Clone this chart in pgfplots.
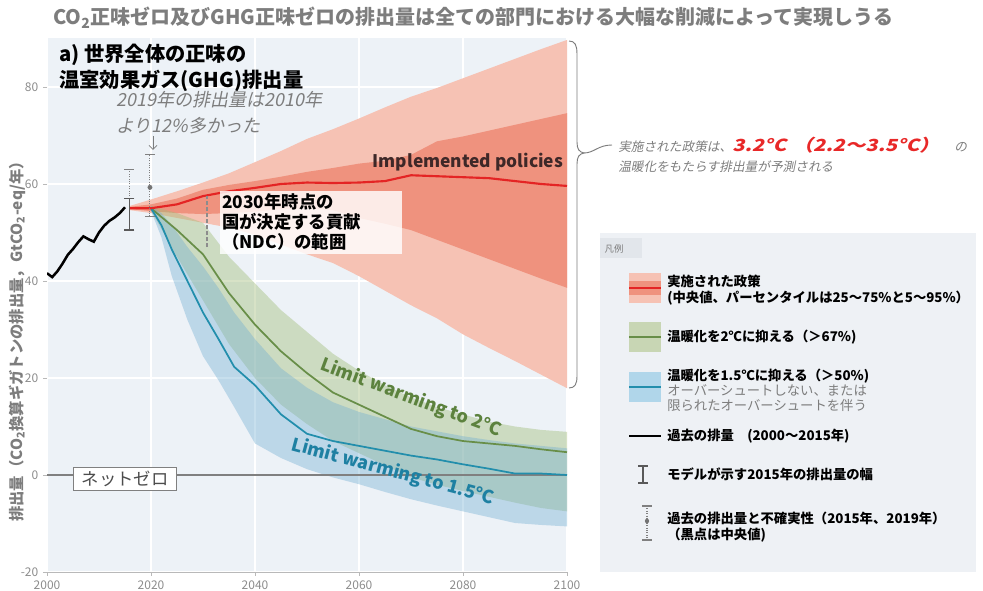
\documentclass[border=0pt]{standalone}
\usepackage{pgfplots}
\pgfplotsset{compat=1.18}
\usepackage{pgfplotstable}
\usepgfplotslibrary{fillbetween}
\usetikzlibrary{arrows.meta}
\usepackage{fontspec}
\setmainfont{Noto Sans CJK JP}[AutoFakeSlant=0.2]

\definecolor{plotbg}{RGB}{237,242,247}
\definecolor{legbg}{RGB}{238,241,245}
\definecolor{legtab}{RGB}{226,230,235}
\definecolor{redout}{RGB}{246,194,180}
\definecolor{redin}{RGB}{239,146,126}
\definecolor{redline}{RGB}{228,36,36}
\definecolor{grfill}{RGB}{160,188,120}
\definecolor{grline}{RGB}{104,142,72}
\definecolor{grtext}{RGB}{92,130,62}
\definecolor{blfill}{RGB}{110,172,210}
\definecolor{blline}{RGB}{34,142,172}
\definecolor{bltext}{RGB}{30,128,162}
\definecolor{grpatch}{RGB}{200,214,180}
\definecolor{blpatch}{RGB}{176,214,234}
\definecolor{axgray}{RGB}{185,185,185}
\definecolor{tickgray}{RGB}{140,140,140}
\definecolor{txtgray}{RGB}{125,125,125}
\definecolor{boxgray}{RGB}{128,128,128}
\definecolor{ipol}{RGB}{62,40,40}
\definecolor{redtxt}{RGB}{232,40,40}

\pgfplotstableread{
year val
2000 41.6
2001 40.8
2002 42.0
2003 43.6
2004 45.4
2005 46.6
2006 48.0
2007 49.2
2008 48.6
2009 48.1
2010 50.0
2011 51.4
2012 52.4
2013 53.1
2014 54.0
2015 55.2
}\histT

\pgfplotstableread{
year oLo iLo mid iHi oHi
2016 54.6 54.8 55.0 55.3 55.5
2020 54.0 54.4 55.0 55.8 56.8
2025 53.0 54.0 55.8 57.0 58.5
2030 52.0 53.8 57.5 58.8 60.3
2035 51.0 54.0 58.5 59.8 62.2
2040 49.5 54.3 59.2 60.6 64.5
2045 47.5 54.8 60.0 61.5 66.8
2050 45.5 55.0 60.3 62.5 69.3
2055 43.7 54.6 60.2 63.3 71.3
2060 41.0 53.0 60.3 64.2 73.5
2065 38.0 51.8 60.6 64.8 75.8
2070 35.0 50.5 61.8 66.0 78.0
2075 32.3 48.5 61.6 68.8 79.8
2080 29.0 46.5 61.4 69.8 81.8
2085 26.2 44.5 61.2 71.0 83.8
2090 23.5 42.5 60.6 72.2 85.8
2095 20.7 40.5 60.0 73.4 87.8
2100 17.9 38.6 59.6 74.6 89.7
}\redT

\pgfplotstableread{
year lo mid hi
2020 54.5 55.0 55.5
2025 45.0 50.5 54.0
2030 36.0 45.5 52.0
2035 27.0 37.5 45.0
2040 20.0 31.0 39.5
2045 14.5 25.5 34.0
2050 10.5 21.0 29.5
2055 7.0 17.0 25.0
2060 4.5 14.5 21.5
2065 2.0 12.0 18.5
2070 -0.5 9.5 16.0
2075 -2.0 8.0 14.0
2080 -3.3 7.0 12.5
2085 -4.5 6.5 11.0
2090 -5.7 6.0 10.0
2095 -6.8 5.3 9.3
2100 -7.5 4.7 8.9
}\greenT

\pgfplotstableread{
year lo mid hi
2020 54.5 55.0 55.5
2022 49.0 51.5 54.0
2024 41.0 46.5 51.5
2027 32.0 40.0 47.0
2030 24.5 33.5 43.0
2033 19.5 28.0 38.5
2036 14.0 22.3 33.5
2040 6.5 18.5 28.0
2045 3.5 12.5 22.0
2050 1.2 8.5 18.0
2055 -0.5 7.0 15.0
2060 -1.9 6.0 13.0
2065 -3.5 5.0 11.5
2070 -5.0 4.0 10.0
2075 -6.3 3.2 9.0
2080 -7.5 2.2 8.0
2085 -8.7 1.3 7.2
2090 -9.9 0.3 6.5
2095 -10.3 0.3 6.0
2100 -10.6 0.0 5.5
}\blueT

\begin{document}
\begin{tikzpicture}
\begin{axis}[
  at={(35.25pt,-429pt)}, anchor=south west,
  scale only axis, width=390pt, height=400.125pt,
  xmin=2000, xmax=2100, ymin=-20, ymax=90,
  xtick={2000,2020,2040,2060,2080,2100},
  ytick={-20,0,20,40,60,80},
  axis background/.style={fill=plotbg},
  axis lines*=left,
  y axis line style={draw=none},
  x axis line style={-, draw=axgray, line width=0.6pt},
  tick style={draw=axgray, line width=0.5pt},
  major tick length=3pt,
  tick align=outside,
  grid=major, major grid style={draw=white, line width=0.9pt},
  ticklabel style={font=\fontsize{9}{10}\selectfont, text=tickgray},
  /pgf/number format/assume math mode=true,
  /pgf/number format/1000 sep={},
]
% red bands
\addplot[name path=rOH, draw=none] table[x=year,y=oHi]{\redT};
\addplot[name path=rOL, draw=none] table[x=year,y=oLo]{\redT};
\addplot[fill=redout, draw=none] fill between[of=rOH and rOL];
\addplot[name path=rIH, draw=none] table[x=year,y=iHi]{\redT};
\addplot[name path=rIL, draw=none] table[x=year,y=iLo]{\redT};
\addplot[fill=redin, draw=none] fill between[of=rIH and rIL];
% green band
\addplot[name path=gH, draw=none] table[x=year,y=hi]{\greenT};
\addplot[name path=gL, draw=none] table[x=year,y=lo]{\greenT};
\addplot[fill=grfill, fill opacity=0.42, draw=none] fill between[of=gH and gL];
% blue band
\addplot[name path=bH, draw=none] table[x=year,y=hi]{\blueT};
\addplot[name path=bL, draw=none] table[x=year,y=lo]{\blueT};
\addplot[fill=blfill, fill opacity=0.38, draw=none] fill between[of=bH and bL];
% zero line
\addplot[boxgray, line width=0.9pt] coordinates {(2000,0) (2100,0)};
% medians
\addplot[grline, line width=1.3pt] table[x=year,y=mid]{\greenT};
\addplot[blline, line width=1.3pt] table[x=year,y=mid]{\blueT};
\addplot[redline, line width=1.6pt] table[x=year,y=mid]{\redT};
% history
\addplot[black, line width=1.9pt] table[x=year,y=val]{\histT};
% uncertainty bars
\addplot[gray, densely dotted, line width=0.8pt] coordinates {(2015.8,50.5) (2015.8,63)};
\addplot[only marks, mark=-, mark size=3.5pt, gray, mark options={line width=0.8pt}] coordinates {(2015.8,63)};
\addplot[black!65, line width=0.9pt, mark=-, mark size=4pt, mark options={line width=0.9pt}] coordinates {(2015.8,50.5) (2015.8,57)};
\addplot[gray, densely dotted, line width=0.8pt] coordinates {(2019.8,53.3) (2019.8,66)};
\addplot[only marks, mark=-, mark size=3.5pt, gray, mark options={line width=0.8pt}] coordinates {(2019.8,53.3) (2019.8,66)};
\addplot[only marks, mark=*, mark size=1.6pt, black!55] coordinates {(2019.8,59.3)};
% NDC range
\addplot[black!45, line width=1.8pt, dash pattern=on 3pt off 1.5pt] coordinates {(2030.8,47) (2030.8,57.5)};
\end{axis}

\begin{scope}[x=0.75pt,y=-0.75pt]
% main title
\node[anchor=west, text=txtgray, font=\bfseries\fontsize{15}{18}\selectfont, inner sep=0pt] at (53,18)
  {CO\textsubscript{2}正味ゼロ及びGHG正味ゼロの排出量は全ての部門における大幅な削減によって実現しうる};
% y label
\node[rotate=90, text=txtgray, font=\bfseries\fontsize{11.5}{12}\selectfont, inner sep=0pt] at (17,338)
  {排出量（CO\textsubscript{2}換算ギガトンの排出量，GtCO\textsubscript{2}-eq/年）};
% panel title
\node[anchor=north west, align=left, font=\bfseries\fontsize{15.2}{19}\selectfont, inner sep=0pt] at (59,44)
  {a) 世界全体の正味の\\温室効果ガス(GHG)排出量};
% 2019 annotation
\node[anchor=north west, align=left, text=txtgray, font=\itshape\fontsize{13.5}{19.5}\selectfont, inner sep=0pt] at (116,91)
  {2019年の排出量は2010年\\より12\%多かった};
\draw[txtgray, line width=0.6pt, -{Straight Barb[length=3pt]}] (153,136) -- (153,150);
% NDC label
\fill[white, opacity=0.82] (220,191) rectangle (402,254);
\node[anchor=north west, align=left, font=\bfseries\fontsize{13}{15}\selectfont, inner sep=0pt] at (222,193)
  {2030年時点の\\国が決定する貢献\\（NDC）の範囲};
% implemented policies
\node[text=ipol, font=\bfseries\fontsize{13}{15}\selectfont] at (468,162) {Implemented policies};
% curve labels
\node[rotate=-20.5, text=grtext, font=\bfseries\fontsize{13.5}{15}\selectfont] at (411,398) {Limit warming to 2°C};
\node[rotate=-15, text=bltext, font=\bfseries\fontsize{13.5}{15}\selectfont] at (393,472) {Limit warming to 1.5°C};
% net zero box
\node[draw=boxgray, line width=1.1pt, fill=white, minimum width=77pt, minimum height=17pt, inner sep=1pt, text=black!70, font=\fontsize{13}{15}\selectfont] at (125,479) {ネットゼロ};
% brace
\draw[txtgray, line width=0.7pt] (569,41) .. controls (575,41) and (577,45) .. (577,54) -- (577,142)
  .. controls (577,149) and (579,152) .. (584,153) .. controls (579,154) and (577,157) .. (577,164)
  -- (577,376) .. controls (577,384) and (575,388) .. (569,388);
\draw[txtgray, line width=0.7pt] (584,153) .. controls (594,153) and (598,145) .. (612,145);
% implemented policies note
\node[anchor=west, text=txtgray, font=\itshape\fontsize{9.5}{11}\selectfont, inner sep=0pt] at (618,145)
  {実施された政策は、{\color{redtxt}\bfseries\addfontfeatures{FakeSlant=0.2}\fontsize{12.5}{14}\selectfont\scalebox{1.22}[1]{3.2°C\hspace{4pt}（2.2～3.5°C）}}\hspace{11pt}の};
\node[anchor=west, text=txtgray, font=\itshape\fontsize{9.5}{11}\selectfont, inner sep=0pt] at (618,167)
  {温暖化をもたらす排出量が予測される};
% legend
\fill[legbg] (600,233) rectangle (976,572);
\fill[legtab] (600,238) rectangle (642,258);
\node[text=txtgray, font=\fontsize{7}{8}\selectfont] at (614,249) {凡例};
\fill[redout] (629,273) rectangle (661,303);
\fill[redin] (629,281) rectangle (661,295);
\draw[redline, line width=1.5pt] (629,288) -- (661,288);
\node[anchor=west, align=left, font=\bfseries\fontsize{10}{12}\selectfont, inner sep=0pt] at (667,290)
  {実施された政策\\(中央値、パーセンタイルは25～75\%と5～95\%）};
\fill[grpatch] (629,322) rectangle (661,352);
\draw[grline, line width=1.3pt] (629,337) -- (661,337);
\node[anchor=west, font=\bfseries\fontsize{10}{12}\selectfont, inner sep=0pt] at (667,337)
  {温暖化を2℃に抑える（＞67\%)};
\fill[blpatch] (629,372) rectangle (661,402);
\draw[blline, line width=1.3pt] (629,387) -- (661,387);
\node[anchor=west, align=left, font=\fontsize{10}{11.25}\selectfont, inner sep=0pt] at (667,390)
  {\textbf{温暖化を1.5℃に抑える（＞50\%)}\\{\color{txtgray}オーバーシュートしない、または}\\{\color{txtgray}限られたオーバーシュートを伴う}};
\draw[black, line width=2pt] (629,436) -- (661,436);
\node[anchor=west, font=\bfseries\fontsize{10}{12}\selectfont, inner sep=0pt] at (667,436)
  {過去の排量　(2000～2015年)};
\draw[black!65, line width=0.9pt] (643,466) -- (643,483) (638,466) -- (648,466) (638,483) -- (648,483);
\node[anchor=west, font=\bfseries\fontsize{10}{12}\selectfont, inner sep=0pt] at (667,474)
  {モデルが示す2015年の排出量の幅};
\draw[gray, densely dotted, line width=0.8pt] (647,506) -- (647,540);
\draw[gray, line width=0.8pt] (642,506) -- (652,506) (642,540) -- (652,540);
\fill[black!55] (647,521) circle (2.2);
\node[anchor=west, align=left, font=\bfseries\fontsize{10}{12}\selectfont, inner sep=0pt] at (667,527)
  {過去の排出量と不確実性（2015年、2019年）\\（黒点は中央値)};
\end{scope}
\pgfresetboundingbox
\path[use as bounding box] (0pt,0pt) rectangle (737.25pt,-443.25pt);
\end{tikzpicture}
\end{document}
